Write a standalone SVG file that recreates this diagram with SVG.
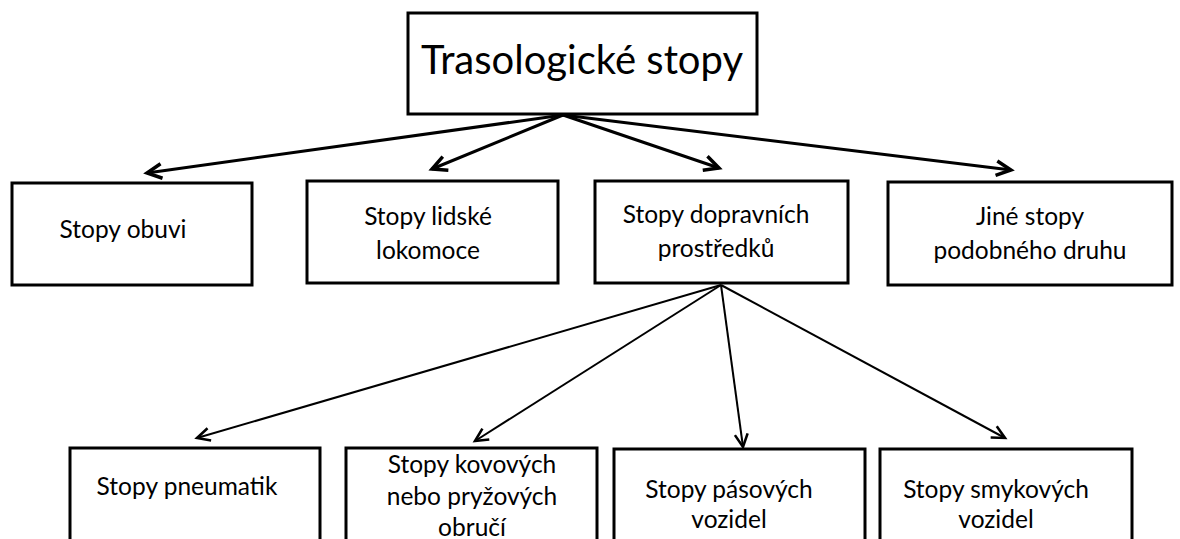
<svg xmlns="http://www.w3.org/2000/svg" width="1180" height="539" viewBox="0 0 1180 539">
  <style>
    .box { fill: #ffffff; stroke: #000000; stroke-width: 3; }
    .lbl { font-family: Lato, "Open Sans", sans-serif; font-size: 24.5px; fill: #000000; text-anchor: middle; }
    .title { font-family: Lato, "Open Sans", sans-serif; font-size: 40px; fill: #000000; text-anchor: middle; }
    .edge { fill: none; stroke: #000000; stroke-linecap: butt; }
    .thick { stroke-width: 3; }
    .thin { stroke-width: 2; }
  </style>
  <defs>
    <marker id="headThick" viewBox="0 0 12 12" refX="11" refY="6" markerWidth="16" markerHeight="16" markerUnits="userSpaceOnUse" orient="auto" overflow="visible">
      <path d="M 0 0.5 L 11 6 L 0 11.5" fill="none" stroke="#000" stroke-width="2.6" stroke-linejoin="miter"/>
    </marker>
    <marker id="headThin" viewBox="0 0 12 12" refX="11" refY="6" markerWidth="14" markerHeight="14" markerUnits="userSpaceOnUse" orient="auto" overflow="visible">
      <path d="M 0 0.5 L 11 6 L 0 11.5" fill="none" stroke="#000" stroke-width="2.2" stroke-linejoin="miter"/>
    </marker>
  </defs>

  <!-- root -->
  <g id="node-root">
    <rect class="box" x="408" y="13" width="349" height="101"/>
    <text class="title" x="582" y="74">Trasologické stopy</text>
  </g>

  <!-- first level -->
  <g id="node-obuv">
    <rect class="box" x="12" y="183" width="240" height="102"/>
    <text class="lbl" x="123" y="238">Stopy obuvi</text>
  </g>
  <g id="node-lokomoce">
    <rect class="box" x="307" y="181" width="251" height="102"/>
    <text class="lbl" x="428" y="225">Stopy lidské</text>
    <text class="lbl" x="428" y="259">lokomoce</text>
  </g>
  <g id="node-doprava">
    <rect class="box" x="595" y="181" width="253" height="102"/>
    <text class="lbl" x="716" y="223">Stopy dopravních</text>
    <text class="lbl" x="716" y="257">prostředků</text>
  </g>
  <g id="node-jine">
    <rect class="box" x="888" y="182" width="284" height="103"/>
    <text class="lbl" x="1030" y="225">Jiné stopy</text>
    <text class="lbl" x="1030" y="259">podobného druhu</text>
  </g>

  <!-- second level -->
  <g id="node-pneumatiky">
    <rect class="box" x="70" y="448" width="250" height="110"/>
    <text class="lbl" x="187" y="495">Stopy pneumatik</text>
  </g>
  <g id="node-obruce">
    <rect class="box" x="346" y="448" width="251" height="110"/>
    <text class="lbl" x="472" y="473">Stopy kovových</text>
    <text class="lbl" x="472" y="505">nebo pryžových</text>
    <text class="lbl" x="472" y="536">obručí</text>
  </g>
  <g id="node-pasova">
    <rect class="box" x="614" y="449" width="251" height="110"/>
    <text class="lbl" x="729" y="498">Stopy pásových</text>
    <text class="lbl" x="729" y="528">vozidel</text>
  </g>
  <g id="node-smykova">
    <rect class="box" x="880" y="449" width="252" height="110"/>
    <text class="lbl" x="996" y="498">Stopy smykových</text>
    <text class="lbl" x="996" y="528">vozidel</text>
  </g>

  <!-- connectors -->
  <g id="connectors">
    <line class="edge thick" x1="563" y1="115" x2="147" y2="173" marker-end="url(#headThick)"/>
    <line class="edge thick" x1="563" y1="115" x2="432" y2="169" marker-end="url(#headThick)"/>
    <line class="edge thick" x1="563" y1="115" x2="719" y2="168" marker-end="url(#headThick)"/>
    <line class="edge thick" x1="563" y1="115" x2="1011" y2="170" marker-end="url(#headThick)"/>

    <line class="edge thin" x1="721" y1="285" x2="197" y2="438" marker-end="url(#headThin)"/>
    <line class="edge thin" x1="721" y1="285" x2="475" y2="441" marker-end="url(#headThin)"/>
    <line class="edge thin" x1="721" y1="285" x2="743" y2="447" marker-end="url(#headThin)"/>
    <line class="edge thin" x1="721" y1="285" x2="1005" y2="438" marker-end="url(#headThin)"/>
  </g>
</svg>
